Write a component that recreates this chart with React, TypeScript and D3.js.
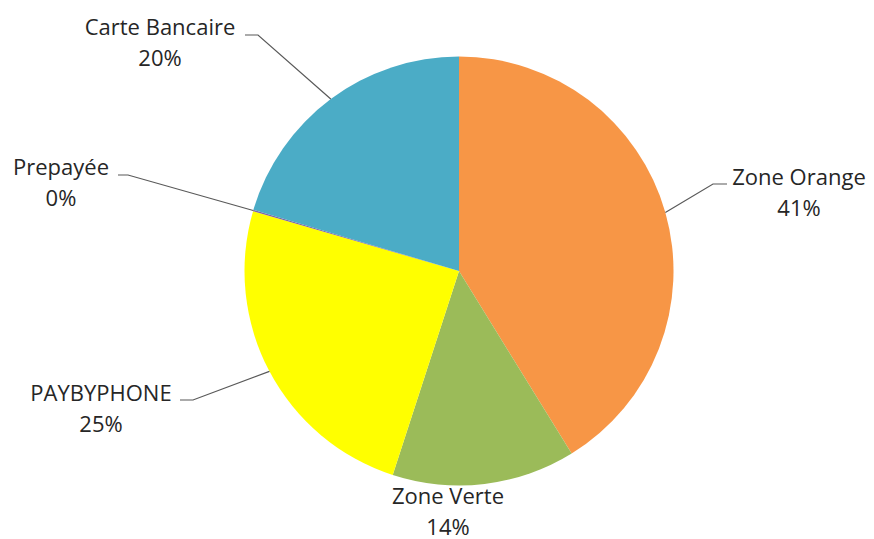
import React, { useEffect, useRef } from 'react';
import * as d3 from 'd3';

// categories clockwise from 12 o'clock, shares in %
const categories = ['Zone Orange', 'Zone Verte', 'PAYBYPHONE', 'Prepayée', 'Carte Bancaire'];
const shares = [41.2, 13.8, 24.5, 0.1, 20.4];
const shareLabels = ['41%', '14%', '25%', '0%', '20%'];
const colors = ['#F79646', '#9BBB59', '#FFFF00', '#8064A2', '#4BACC6'];

// where each data label sits (center x, first baseline) and its leader elbow
const labelLayout: { [k: string]: { x: number; y: number; elbow?: [number, number]; end?: number } } = {
  'Zone Orange': { x: 799, y: 185, elbow: [713, 184], end: 727 },
  'Zone Verte': { x: 448, y: 504 },
  'PAYBYPHONE': { x: 101, y: 401, elbow: [193, 400], end: 180 },
  'Prepayée': { x: 61, y: 175, elbow: [128, 175], end: 118 },
  'Carte Bancaire': { x: 160, y: 35, elbow: [258, 35], end: 245 },
};

const W = 874;
const H = 539;

export default function App() {
  const svgRef = useRef(null);

  useEffect(() => {
    const svg = d3.select(svgRef.current);
    svg.selectAll('*').remove();

    const cx = 459;
    const cy = 271;
    const radius = 214.5;

    const data = categories.map((c, i) => ({ name: c, value: shares[i], label: shareLabels[i], color: colors[i] }));

    const pie = d3.pie<any>().sort(null).value((d) => d.value).startAngle(0).endAngle(2 * Math.PI);
    const arcs = pie(data);
    const arc = d3.arc<any>().innerRadius(0).outerRadius(radius);
    const edge = d3.arc<any>().innerRadius(radius).outerRadius(radius);

    const g = svg.append('g').attr('transform', `translate(${cx},${cy})`);

    g.selectAll('path.slice')
      .data(arcs)
      .enter()
      .append('path')
      .attr('class', 'slice')
      .attr('d', arc as any)
      .attr('fill', (d) => d.data.color);

    // leader lines
    arcs.forEach((a) => {
      const lay = labelLayout[a.data.name];
      if (!lay.elbow) return;
      const [ax, ay] = edge.centroid(a);
      const pts: [number, number][] = [
        [ax + cx, ay + cy],
        lay.elbow,
        [lay.end as number, lay.elbow[1]],
      ];
      svg.append('path')
        .attr('d', d3.line()(pts))
        .attr('fill', 'none')
        .attr('stroke', '#595959')
        .attr('stroke-width', 1.2);
    });

    // labels
    arcs.forEach((a) => {
      const lay = labelLayout[a.data.name];
      const t = svg.append('text')
        .attr('text-anchor', 'middle')
        .attr('font-family', 'Open Sans, sans-serif')
        .attr('font-size', 22)
        .attr('fill', '#262626');
      t.append('tspan').attr('x', lay.x).attr('y', lay.y).text(a.data.name);
      t.append('tspan').attr('x', lay.x).attr('y', lay.y + 31).text(a.data.label);
    });
  }, []);

  return (
    <svg
      ref={svgRef}
      width={W}
      height={H}
      style={{ position: 'absolute', left: 0, top: 0, background: '#fff' }}
    />
  );
}
